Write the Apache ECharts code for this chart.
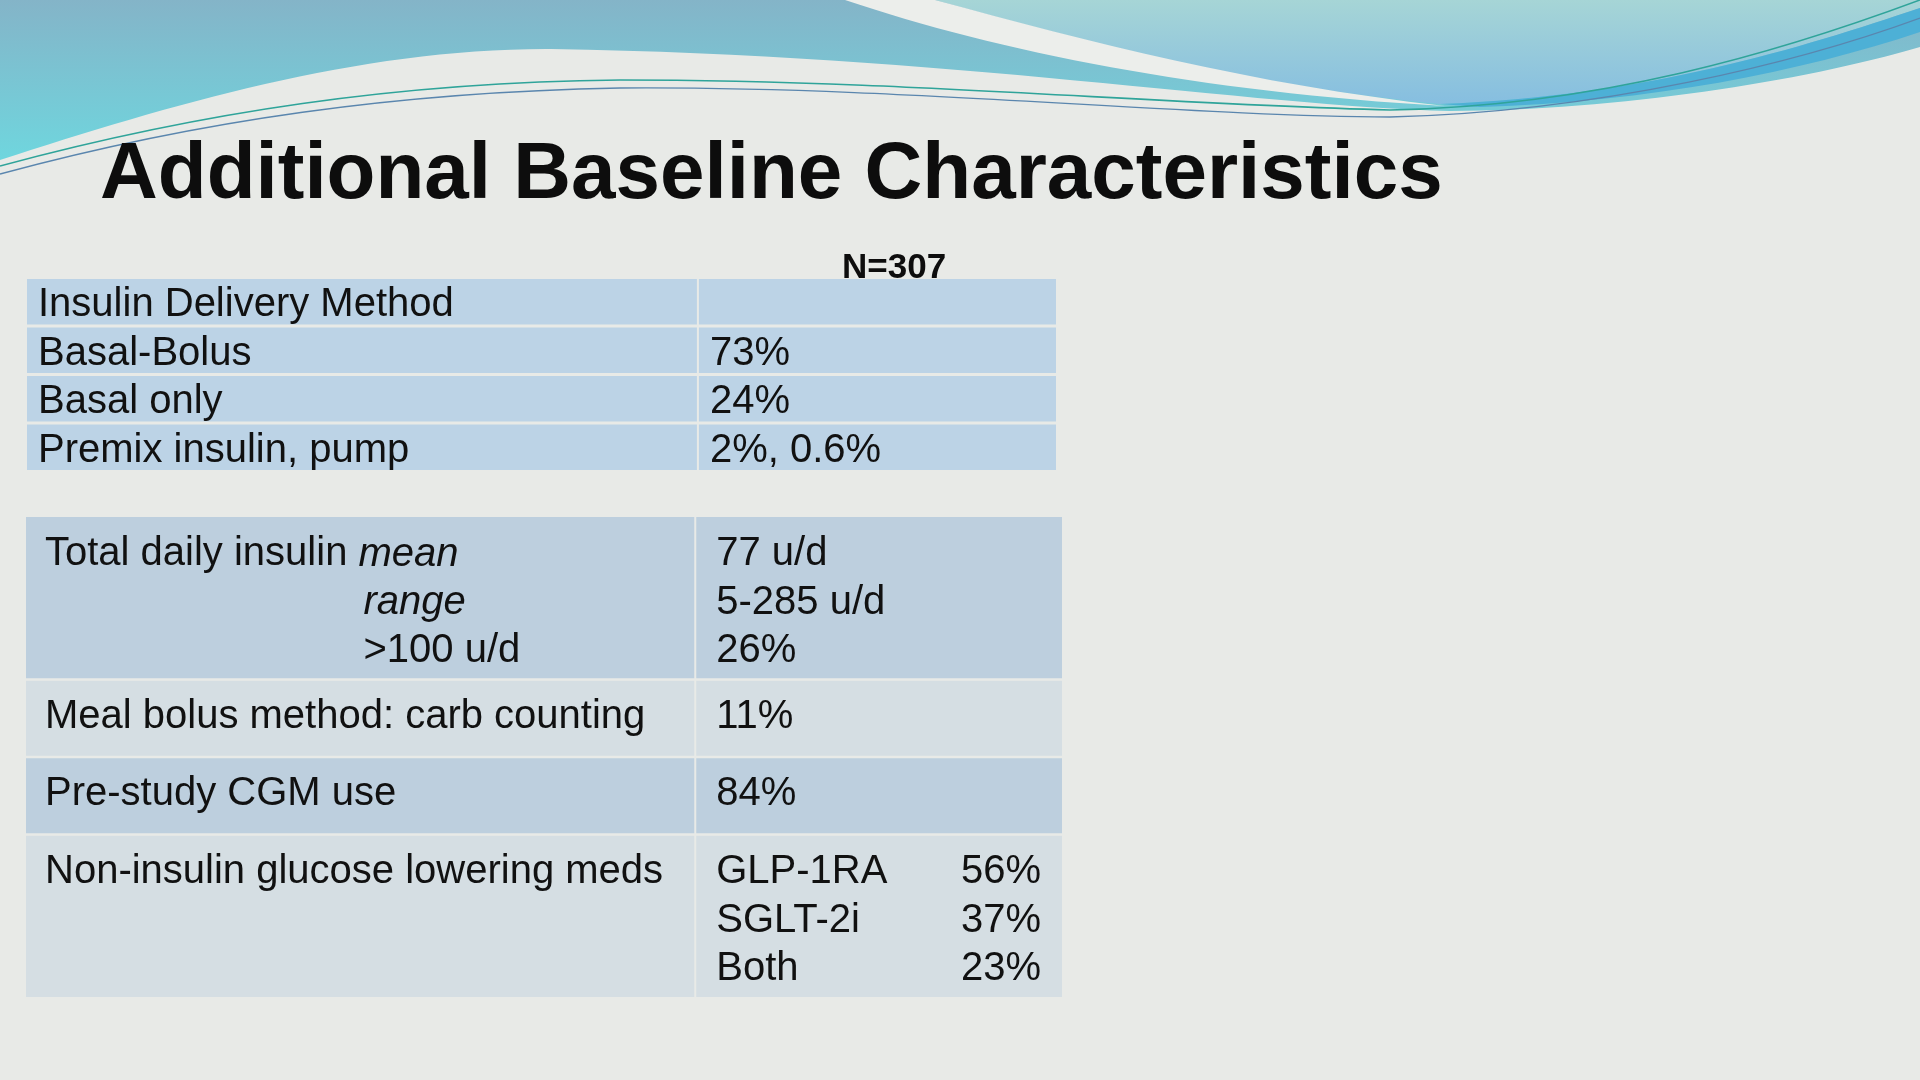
<!DOCTYPE html>
<html>
<head>
<meta charset="utf-8">
<title>Additional Baseline Characteristics</title>
<script src="https://cdn.jsdelivr.net/npm/echarts@6/dist/echarts.min.js"></script>
<style>
  html, body { margin: 0; padding: 0; background: #e8eae7; }
  #chart { width: 1920px; height: 1080px; }
</style>
</head>
<body>
<div id="chart"></div>
<script>
const FONT = '"Liberation Sans", Arial, sans-serif';

// Upper table: insulin delivery method (N column)
const COHORT_N = 307;
const DELIVERY_ROWS = ['Insulin Delivery Method', 'Basal-Bolus', 'Basal only', 'Premix insulin, pump'];
const DELIVERY_SHARES = ['', '73%', '24%', '2%, 0.6%'];

// Lower table
const CHARACTERISTICS = [
  'Total daily insulin',
  'Meal bolus method: carb counting',
  'Pre-study CGM use',
  'Non-insulin glucose lowering meds',
];
const TDI_STATS = ['mean', 'range', '>100 u/d'];
const TDI_VALUES = ['77 u/d', '5-285 u/d', '26%'];
const CARB_COUNTING = ['11%'];
const CGM_USE = ['84%'];
const MED_CLASSES = ['GLP-1RA', 'SGLT-2i', 'Both'];
const MED_SHARES = ['56%', '37%', '23%'];

// Layout / style (pixels on the 1920x1080 slide)
const T1 = { left: 27, top: 279, width: 1029, height: 194, split: 0.652, padL: 11, padR: 12, gap: 3 };
const T2 = { left: 26, top: 517, width: 1036, height: 480, split: 0.646, padL: 19, padR: 21, shareRight: 21, gap: 2.5 };
// Lower-table row heights, in text lines; first text line sits LINE0 lines below the row top.
const T2_SPANS = [3.35, 1.6, 1.6, 3.35];
const LINE0 = 0.7;
const TEXT_DY = 3.5;  // visual centring nudge for body text
const STAT_TAB = 5;   // continuation stat lines sit on a tab just right of "mean"
const ITALIC_STATS = ['mean', 'range'];
const T1_FILL = '#bcd3e6';
const T2_FILLS = ['#bdcfde', '#d5dee3', '#bdcfde', '#d5dee3'];
const INK = '#111';
const BODY_SIZE = 40;

const T2_TOTAL = T2_SPANS.reduce((a, b) => a + b, 0);
const T2_STARTS = T2_SPANS.map((_, i) => T2_SPANS.slice(0, i).reduce((a, b) => a + b, 0));

// Stats under "Total daily insulin" line up with the word after it.
const measureCtx = document.createElement('canvas').getContext('2d');
measureCtx.font = `${BODY_SIZE}px ${FONT}`;
const STAT_INDENT = measureCtx.measureText(CHARACTERISTICS[0] + ' ').width;

const LOWER_ROWS = [
  { label: CHARACTERISTICS[0], stats: TDI_STATS, values: TDI_VALUES },
  { label: CHARACTERISTICS[1], values: CARB_COUNTING },
  { label: CHARACTERISTICS[2], values: CGM_USE },
  { label: CHARACTERISTICS[3], values: MED_CLASSES, shares: MED_SHARES },
];

function bodyText(text, x, y, opts = {}) {
  return {
    type: 'text',
    style: {
      text, x, y: y + TEXT_DY,
      fill: INK,
      fontFamily: FONT,
      fontSize: BODY_SIZE,
      fontStyle: opts.italic ? 'italic' : 'normal',
      align: opts.align || 'left',
      verticalAlign: 'middle',
    },
  };
}

function cell(x0, y0, x1, y1, fill) {
  return { type: 'rect', shape: { x: x0, y: y0, width: x1 - x0, height: y1 - y0 }, style: { fill } };
}

function deliveryRow(params, api) {
  const i = params.dataIndex;
  const mid = api.coord([0, i]);
  const band = api.size([0, 1])[1];
  const top = mid[1] - band / 2;
  const bottom = top + band - T1.gap;
  const x0 = mid[0];
  const xs = api.coord([T1.split, i])[0];
  const x1 = api.coord([1, i])[0];
  const cy = (top + bottom) / 2;
  const children = [
    cell(x0, top, xs - 1, bottom, T1_FILL),
    cell(xs + 1, top, x1, bottom, T1_FILL),
    bodyText(DELIVERY_ROWS[i], x0 + T1.padL, cy),
  ];
  if (DELIVERY_SHARES[i]) children.push(bodyText(DELIVERY_SHARES[i], xs + T1.padR, cy));
  return { type: 'group', children };
}

function lowerRow(params, api) {
  const i = params.dataIndex;
  const row = LOWER_ROWS[i];
  const start = api.value(1);
  const [x0, y0] = api.coord([0, start]);
  const xs = api.coord([T2.split, start])[0];
  const [x1, y1] = api.coord([1, start + T2_SPANS[i]]);
  const lineY = k => api.coord([0, start + LINE0 + k])[1];
  const gapTop = i === 0 ? 0 : T2.gap / 2;
  const gapBottom = i === LOWER_ROWS.length - 1 ? 0 : T2.gap / 2;
  const children = [
    cell(x0, y0 + gapTop, xs - 1, y1 - gapBottom, T2_FILLS[i]),
    cell(xs + 1, y0 + gapTop, x1, y1 - gapBottom, T2_FILLS[i]),
    bodyText(row.label, x0 + T2.padL, lineY(0)),
  ];
  (row.stats || []).forEach((s, k) => {
    const x = x0 + T2.padL + STAT_INDENT + (k > 0 ? STAT_TAB : 0);
    children.push(bodyText(s, x, lineY(k), { italic: ITALIC_STATS.includes(s) }));
  });
  row.values.forEach((v, k) => children.push(bodyText(v, xs + T2.padR, lineY(k))));
  (row.shares || []).forEach((v, k) => children.push(bodyText(v, x1 - T2.shareRight, lineY(k), { align: 'right' })));
  return { type: 'group', children };
}

// Slide header swoosh (decorative artwork, not data)
const vertical = (a, b) => ({ type: 'linear', x: 0, y: 0, x2: 0, y2: 1, colorStops: [
  { offset: 0, color: a }, { offset: 1, color: b } ] });
const SWOOSH = [
  { d: 'M0,0 H1920 V47 C1800,82 1620,110 1450,111 C1250,106 950,55 551,49 C360,48 170,105 0,160 Z',
    style: { fill: vertical('#84b4c8', '#6fd6de') } },
  { d: 'M935,0 C1080,40 1250,86 1440,104 C1650,96 1800,48 1920,8 V0 Z',
    style: { fill: vertical('#a6d5d6', '#86bee0') } },
  { d: 'M1440,104 C1650,96 1800,48 1920,8 V32 C1800,72 1650,102 1480,107 Z',
    style: { fill: '#4db0d6' } },
  { d: 'M845,0 C1000,52 1200,92 1445,106 C1250,84 1090,42 935,0 Z',
    style: { fill: '#eceeeb' } },
  { d: 'M0,166 C200,112 400,82 620,80 C900,80 1150,104 1390,110 C1600,106 1780,52 1920,0',
    style: { fill: null, stroke: '#2fa49a', lineWidth: 1.6 } },
  { d: 'M0,174 C200,120 400,92 620,88 C900,86 1180,116 1390,117 C1600,112 1800,62 1920,18',
    style: { fill: null, stroke: '#5a86ae', lineWidth: 1.3 } },
];

function swoosh() {
  return {
    type: 'group',
    children: SWOOSH.map(p => ({ type: 'path', shape: { pathData: p.d }, style: p.style })),
  };
}

const chart = echarts.init(document.getElementById('chart'), null, { renderer: 'canvas' });

chart.setOption({
  backgroundColor: '#e8eae7',
  animation: false,
  title: [
    {
      text: 'Additional Baseline Characteristics',
      left: 100, top: 136, padding: 0,
      textStyle: { fontFamily: FONT, fontSize: 80, fontWeight: 'bold', color: '#0d0d0d' },
    },
    {
      text: 'N=' + COHORT_N,
      left: 842, top: 251, padding: 0,
      textStyle: { fontFamily: FONT, fontSize: 35, fontWeight: 'bold', color: '#0d0d0d' },
    },
  ],
  grid: [
    { left: T1.left, top: T1.top, width: T1.width, height: T1.height },
    { left: T2.left, top: T2.top, width: T2.width, height: T2.height },
  ],
  xAxis: [
    { gridIndex: 0, type: 'value', min: 0, max: 1, show: false },
    { gridIndex: 1, type: 'value', min: 0, max: 1, show: false },
  ],
  yAxis: [
    { gridIndex: 0, type: 'category', data: DELIVERY_ROWS, inverse: true, show: false },
    { gridIndex: 1, type: 'value', min: 0, max: T2_TOTAL, inverse: true, show: false },
  ],
  series: [
    {
      type: 'custom', coordinateSystem: 'none', z: 0, silent: true,
      renderItem: swoosh,
      data: [0],
    },
    {
      type: 'custom', xAxisIndex: 0, yAxisIndex: 0, z: 5, clip: false,
      renderItem: deliveryRow,
      data: DELIVERY_ROWS.map((_, i) => [0, i]),
    },
    {
      type: 'custom', xAxisIndex: 1, yAxisIndex: 1, z: 5, clip: false,
      renderItem: lowerRow,
      data: LOWER_ROWS.map((_, i) => [0, T2_STARTS[i]]),
    },
  ],
});
</script>
</body>
</html>
